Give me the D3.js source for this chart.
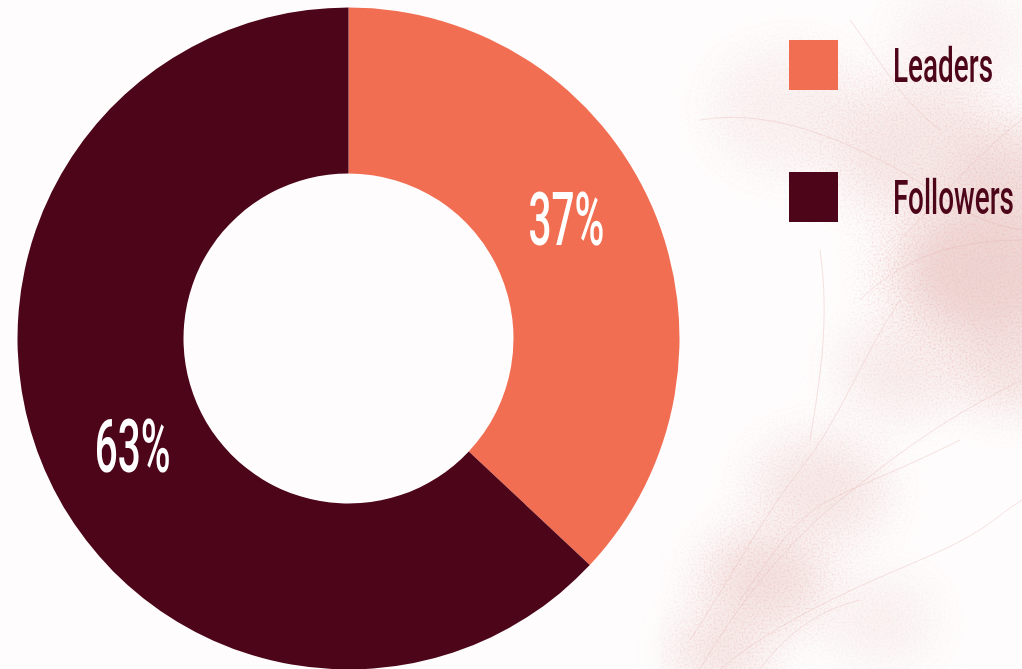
<!DOCTYPE html>
<html>
<head>
<meta charset="utf-8">
<script src="https://cdn.jsdelivr.net/npm/d3@7"></script>
<style>
  html, body { margin: 0; padding: 0; background: #fefcfc; }
  svg { display: block; }
</style>
</head>
<body>
<svg id="chart" width="1022" height="669"></svg>
<script>
// Share of respondents by role
const categories = ["Leaders", "Followers"];
const shares = [37, 63];
const labels = ["37%", "63%"];
const colors = ["#f26e52", "#4d0519"];

const width = 1022, height = 669;
const cx = 348.5, cy = 338.5;
const outerR = 331, innerR = 165;

const svg = d3.select("#chart");
const defs = svg.append("defs");

// Soft, speckled texture washing over the right side of the page
const blur = defs.append("filter").attr("id", "soft")
  .attr("x", "-60%").attr("y", "-60%").attr("width", "220%").attr("height", "220%");
blur.append("feGaussianBlur").attr("stdDeviation", 22);

const grain = defs.append("filter").attr("id", "grain")
  .attr("x", 0).attr("y", 0).attr("width", "100%").attr("height", "100%")
  .attr("filterUnits", "userSpaceOnUse");
grain.append("feTurbulence").attr("type", "fractalNoise")
  .attr("baseFrequency", 0.5).attr("numOctaves", 2).attr("seed", 7).attr("result", "n");
grain.append("feColorMatrix").attr("in", "n").attr("type", "matrix")
  .attr("values", "0 0 0 0 0.86  0 0 0 0 0.55  0 0 0 0 0.53  0 0 0 -2.4 1.35")
  .attr("result", "speck");
grain.append("feComposite").attr("in", "speck").attr("in2", "SourceGraphic").attr("operator", "in");

const thin = defs.append("filter").attr("id", "thin");
thin.append("feGaussianBlur").attr("stdDeviation", 0.5);

svg.append("rect").attr("width", width).attr("height", height).attr("fill", "#fefcfc");

const blobs = [
  [985, 270, 85, 0.85], [1015, 180, 60, 0.6], [920, 150, 80, 0.4],
  [765, 580, 55, 0.6], [820, 490, 60, 0.4], [720, 650, 45, 0.45],
  [1010, 360, 55, 0.5], [900, 370, 55, 0.3], [790, 110, 70, 0.22],
  [960, 40, 60, 0.18], [880, 620, 50, 0.2]
];

// Haze under the grain
svg.append("g").attr("opacity", 0.55)
  .selectAll("ellipse").data(blobs).join("ellipse")
  .attr("cx", d => d[0]).attr("cy", d => d[1])
  .attr("rx", d => d[2]).attr("ry", d => d[2] * 0.8)
  .attr("fill", "#dcaaa6").attr("opacity", d => d[3])
  .attr("filter", "url(#soft)");

// Grain clipped to the haze areas
const mask = defs.append("mask").attr("id", "hazeMask");
mask.append("rect").attr("width", width).attr("height", height).attr("fill", "black");
mask.append("g").selectAll("ellipse").data(blobs).join("ellipse")
  .attr("cx", d => d[0]).attr("cy", d => d[1])
  .attr("rx", d => d[2] * 1.4).attr("ry", d => d[2] * 1.1)
  .attr("fill", "white").attr("opacity", d => Math.min(1, d[3] * 1.3))
  .attr("filter", "url(#soft)");
svg.append("rect").attr("x", 660).attr("width", width - 660).attr("height", height)
  .attr("fill", "#fff").attr("filter", "url(#grain)")
  .attr("mask", "url(#hazeMask)").attr("opacity", 0.8);

const strands = [
  "M700,669 C740,600 790,540 840,500 S940,420 1022,380",
  "M690,640 C730,580 760,520 800,470 S860,360 900,300",
  "M720,669 C780,620 850,590 920,560 S990,520 1022,500",
  "M740,600 C770,560 790,520 830,500 S900,470 960,440",
  "M810,440 C820,380 830,320 820,250",
  "M860,300 C900,260 950,240 1022,240",
  "M700,120 C760,110 820,130 880,160 S960,220 1022,230",
  "M760,669 C790,630 820,610 860,600",
  "M850,20 C880,60 900,100 940,130",
  "M900,240 C940,200 980,150 1022,120"
];
svg.append("g").attr("fill", "none").attr("stroke", "#e3b2ac").attr("stroke-width", 0.8)
  .attr("opacity", 0.45).attr("filter", "url(#thin)")
  .selectAll("path").data(strands).join("path").attr("d", d => d);

// Donut
const pie = d3.pie().sort(null).value(d => d);
const arcs = pie(shares);
const arc = d3.arc().innerRadius(innerR).outerRadius(outerR);

const donut = svg.append("g").attr("transform", `translate(${cx},${cy})`);
donut.selectAll("path").data(arcs).join("path")
  .attr("d", arc)
  .attr("fill", (d, i) => colors[i]);

// Percent labels placed along the ring, a little before each slice's midpoint
const labelR = 245, labelTilt = -0.075;
const condense = 0.54;
donut.selectAll("text").data(arcs).join("text")
  .attr("transform", d => {
    const a = (d.startAngle + d.endAngle) / 2 + labelTilt;
    const x = Math.sin(a) * labelR, y = -Math.cos(a) * labelR;
    return `translate(${x + 1},${y + 20}) scale(${condense},1)`;
  })
  .attr("text-anchor", "middle")
  .attr("font-family", "Roboto, 'Liberation Sans', sans-serif")
  .attr("font-weight", 500)
  .attr("font-size", 75)
  .attr("fill", "#ffffff")
  .text((d, i) => labels[i]);

// Legend
const legend = svg.append("g").attr("transform", "translate(789,40)");
const rows = legend.selectAll("g").data(categories).join("g")
  .attr("transform", (d, i) => `translate(0,${i * 132})`);
rows.append("rect").attr("width", 49).attr("height", 50).attr("fill", (d, i) => colors[i]);
rows.append("text")
  .attr("transform", `translate(104,42) scale(0.57,1)`)
  .attr("font-family", "Roboto, 'Liberation Sans', sans-serif")
  .attr("font-weight", 500)
  .attr("font-size", 49)
  .attr("fill", "#4d0519")
  .text(d => d);
</script>
</body>
</html>
